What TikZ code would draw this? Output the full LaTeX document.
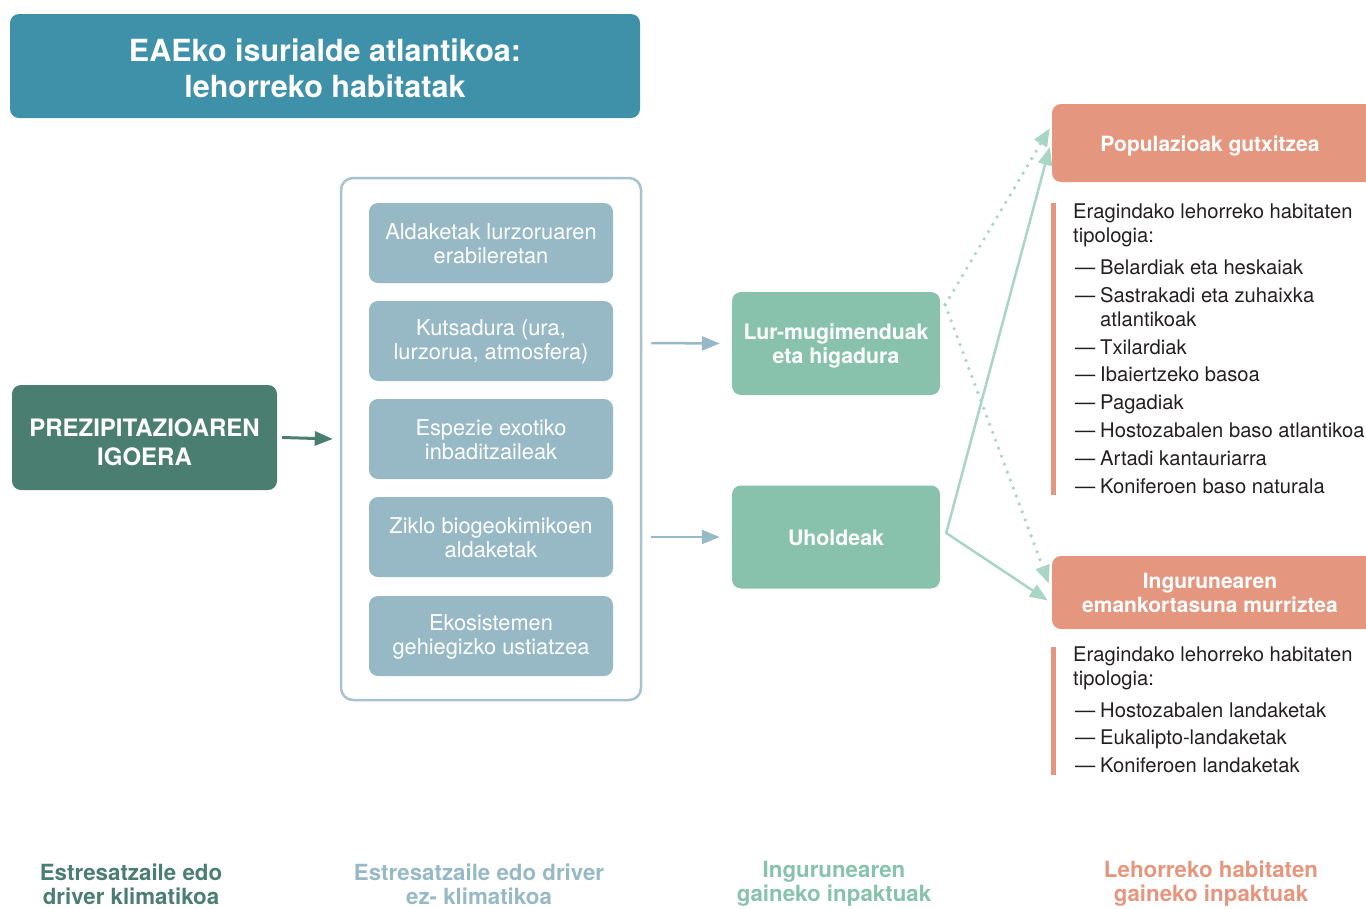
\documentclass[tikz,border=0pt]{standalone}
\usepackage{fontspec}
\setmainfont{TeX Gyre Heros}
\usetikzlibrary{arrows.meta,calc}

\definecolor{cTitle}{HTML}{3E91A8}
\definecolor{cClim}{HTML}{4A7E70}
\definecolor{cNon}{HTML}{97B9C6}
\definecolor{cFrame}{HTML}{A6C3CF}
\definecolor{cEnv}{HTML}{88C2AD}
\definecolor{cLink}{HTML}{A8D5C4}
\definecolor{cHab}{HTML}{E5967E}
\definecolor{cText}{HTML}{231F20}

\begin{document}
\begin{tikzpicture}[x=1pt,y=-1pt,
  box/.style={rounded corners=9pt, text=white, align=center, inner sep=0pt},
  plain/.style={text=white, align=center, inner sep=0pt},
  nonbox/.style={box, fill=cNon, minimum width=244pt, minimum height=80pt},
  nontext/.style={plain, font=\fontsize{21.8}{24}\selectfont},
  envbox/.style={box, fill=cEnv, minimum width=208pt, minimum height=103pt},
  envtext/.style={plain, font=\fontsize{21.3}{24}\selectfont\bfseries},
  habbox/.style={box, fill=cHab, minimum width=324pt},
  habtitle/.style={plain, font=\fontsize{21}{24}\selectfont\bfseries},
  listtext/.style={anchor=base west, inner sep=0pt, text=cText,
    font=\fontsize{20.2}{24}\selectfont},
  legend/.style={align=center, inner sep=0pt,
    font=\fontsize{22.3}{24}\selectfont\bfseries},
  linkarrow/.style={-{Triangle[length=18pt,width=14pt]}, line width=2.5pt, draw=cLink},
  dotlink/.style={linkarrow, dash pattern=on 0pt off 8.5pt, line cap=round, line width=3.6pt},
]
\useasboundingbox (0,0) rectangle (1366,908);

% title banner
\node[box, fill=cTitle, minimum width=630pt, minimum height=104pt] (title) at (325,66) {};
\node[plain, font=\fontsize{30.5}{36}\selectfont\bfseries] (titlet) at (325,68)
  {EAEko isurialde atlantikoa:\\lehorreko habitatak};

% climatic driver
\node[box, fill=cClim, minimum width=265pt, minimum height=105pt] (clim) at (144.5,437.5) {};
\node[plain, font=\fontsize{24}{29}\selectfont\bfseries] (climt) at (144.5,442)
  {PREZIPITAZIOAREN\\IGOERA};

% frame holding the non-climatic drivers
\node[draw=cFrame, line width=2.5pt, rounded corners=12pt, fill=white,
  minimum width=300pt, minimum height=522pt, inner sep=0pt] (frame) at (491,439) {};

\foreach \yy/\tt [count=\i] in {243/{Aldaketak lurzoruaren\\erabileretan},
  341/{Kutsadura (ura,\\lurzorua, atmosfera)},
  439/{Espezie exotiko\\inbaditzaileak},
  537/{Ziklo biogeokimikoen\\aldaketak},
  636/{Ekosistemen\\gehiegizko ustiatzea}}{
  \node[nonbox] (n\i) at (491,\yy) {};
  \node[nontext] (nt\i) at (491,\yy+1) {\tt};
}

% environmental impacts
\node[envbox] (lur) at (836,343.5) {};
\node[envtext] (lurt) at (836,345.5) {Lur-mugimenduak\\eta higadura};
\node[envbox] (uhol) at (836,537) {};
\node[envtext] (uholt) at (836,538) {Uholdeak};

% habitat impacts
\node[habbox, minimum height=78pt] (pop) at (1214,143) {};
\node[habtitle] (popt) at (1210,145.5) {Populazioak gutxitzea};
\node[habbox, minimum height=73pt] (ing) at (1214,592.5) {};
\node[habtitle] (ingt) at (1210,593) {Ingurunearen\\emankortasuna murriztea};

% arrows between columns
\draw[-{Triangle[length=18pt,width=14pt]}, line width=3pt, draw=cClim]
  ($(clim.east)+(5,0)$) -- ($(frame.west)+(-7,0)$);
\draw[-{Triangle[length=18pt,width=14pt]}, line width=2.5pt, draw=cNon]
  ($(frame.east)+(9,-96)$) -- ($(lur.west)+(-12,0)$);
\draw[-{Triangle[length=18pt,width=14pt]}, line width=2.5pt, draw=cNon]
  ($(frame.east)+(9,98)$) -- ($(uhol.west)+(-12,0)$);

\coordinate (d0) at ($(lur.north east)+(5,13)$);
\coordinate (s0) at ($(uhol.east)+(6,-4)$);
\draw[dotlink] (d0) -- ($(pop.west)+(-2,-15)$);
\draw[dotlink] (d0) -- ($(ing.west)+(-3,-9)$);
\draw[linkarrow] (s0) -- ($(pop.west)+(-2,4)$);
\draw[linkarrow] (s0) -- ($(ing.west)+(-4,8)$);
\fill[cLink] (s0) circle (1.25pt);

% side bars of the habitat lists
\fill[cHab] (1051,203) rectangle (1056,495);
\fill[cHab] (1051,647) rectangle (1056,775);

% first habitat list
\node[listtext] (h1a) at (1073,218) {Eragindako lehorreko habitaten};
\node[listtext] (h1b) at (1073,242) {tipologia:};
\foreach \yy/\tt [count=\i] in {274/Belardiak eta heskaiak, 302/Sastrakadi eta zuhaixka,
  354/Txilardiak, 381/Ibaiertzeko basoa, 409/Pagadiak,
  437/Hostozabalen baso atlantikoa, 465/Artadi kantauriarra, 493/Koniferoen baso naturala}{
  \node[listtext] (d1-\i) at (1075,\yy) {—};
  \node[listtext] (t1-\i) at (1100,\yy) {\tt};
}
\node[listtext] (t1-x) at (1100,326) {atlantikoak};

% second habitat list
\node[listtext] (h2a) at (1073,661) {Eragindako lehorreko habitaten};
\node[listtext] (h2b) at (1073,685) {tipologia:};
\foreach \yy/\tt [count=\i] in {717/Hostozabalen landaketak, 744/Eukalipto-landaketak,
  772/Koniferoen landaketak}{
  \node[listtext] (d2-\i) at (1075,\yy) {—};
  \node[listtext] (t2-\i) at (1100,\yy) {\tt};
}

% column legends
\node[legend, text=cClim] (lg1) at (131,884) {Estresatzaile edo\\driver klimatikoa};
\node[legend, text=cNon] (lg2) at (479,884) {Estresatzaile edo driver\\ez- klimatikoa};
\node[legend, text=cEnv] (lg3) at (834,884) {Ingurunearen\\gaineko inpaktuak};
\node[legend, text=cHab] (lg4) at (1211,884) {Lehorreko habitaten\\gaineko inpaktuak};
\end{tikzpicture}
\end{document}
